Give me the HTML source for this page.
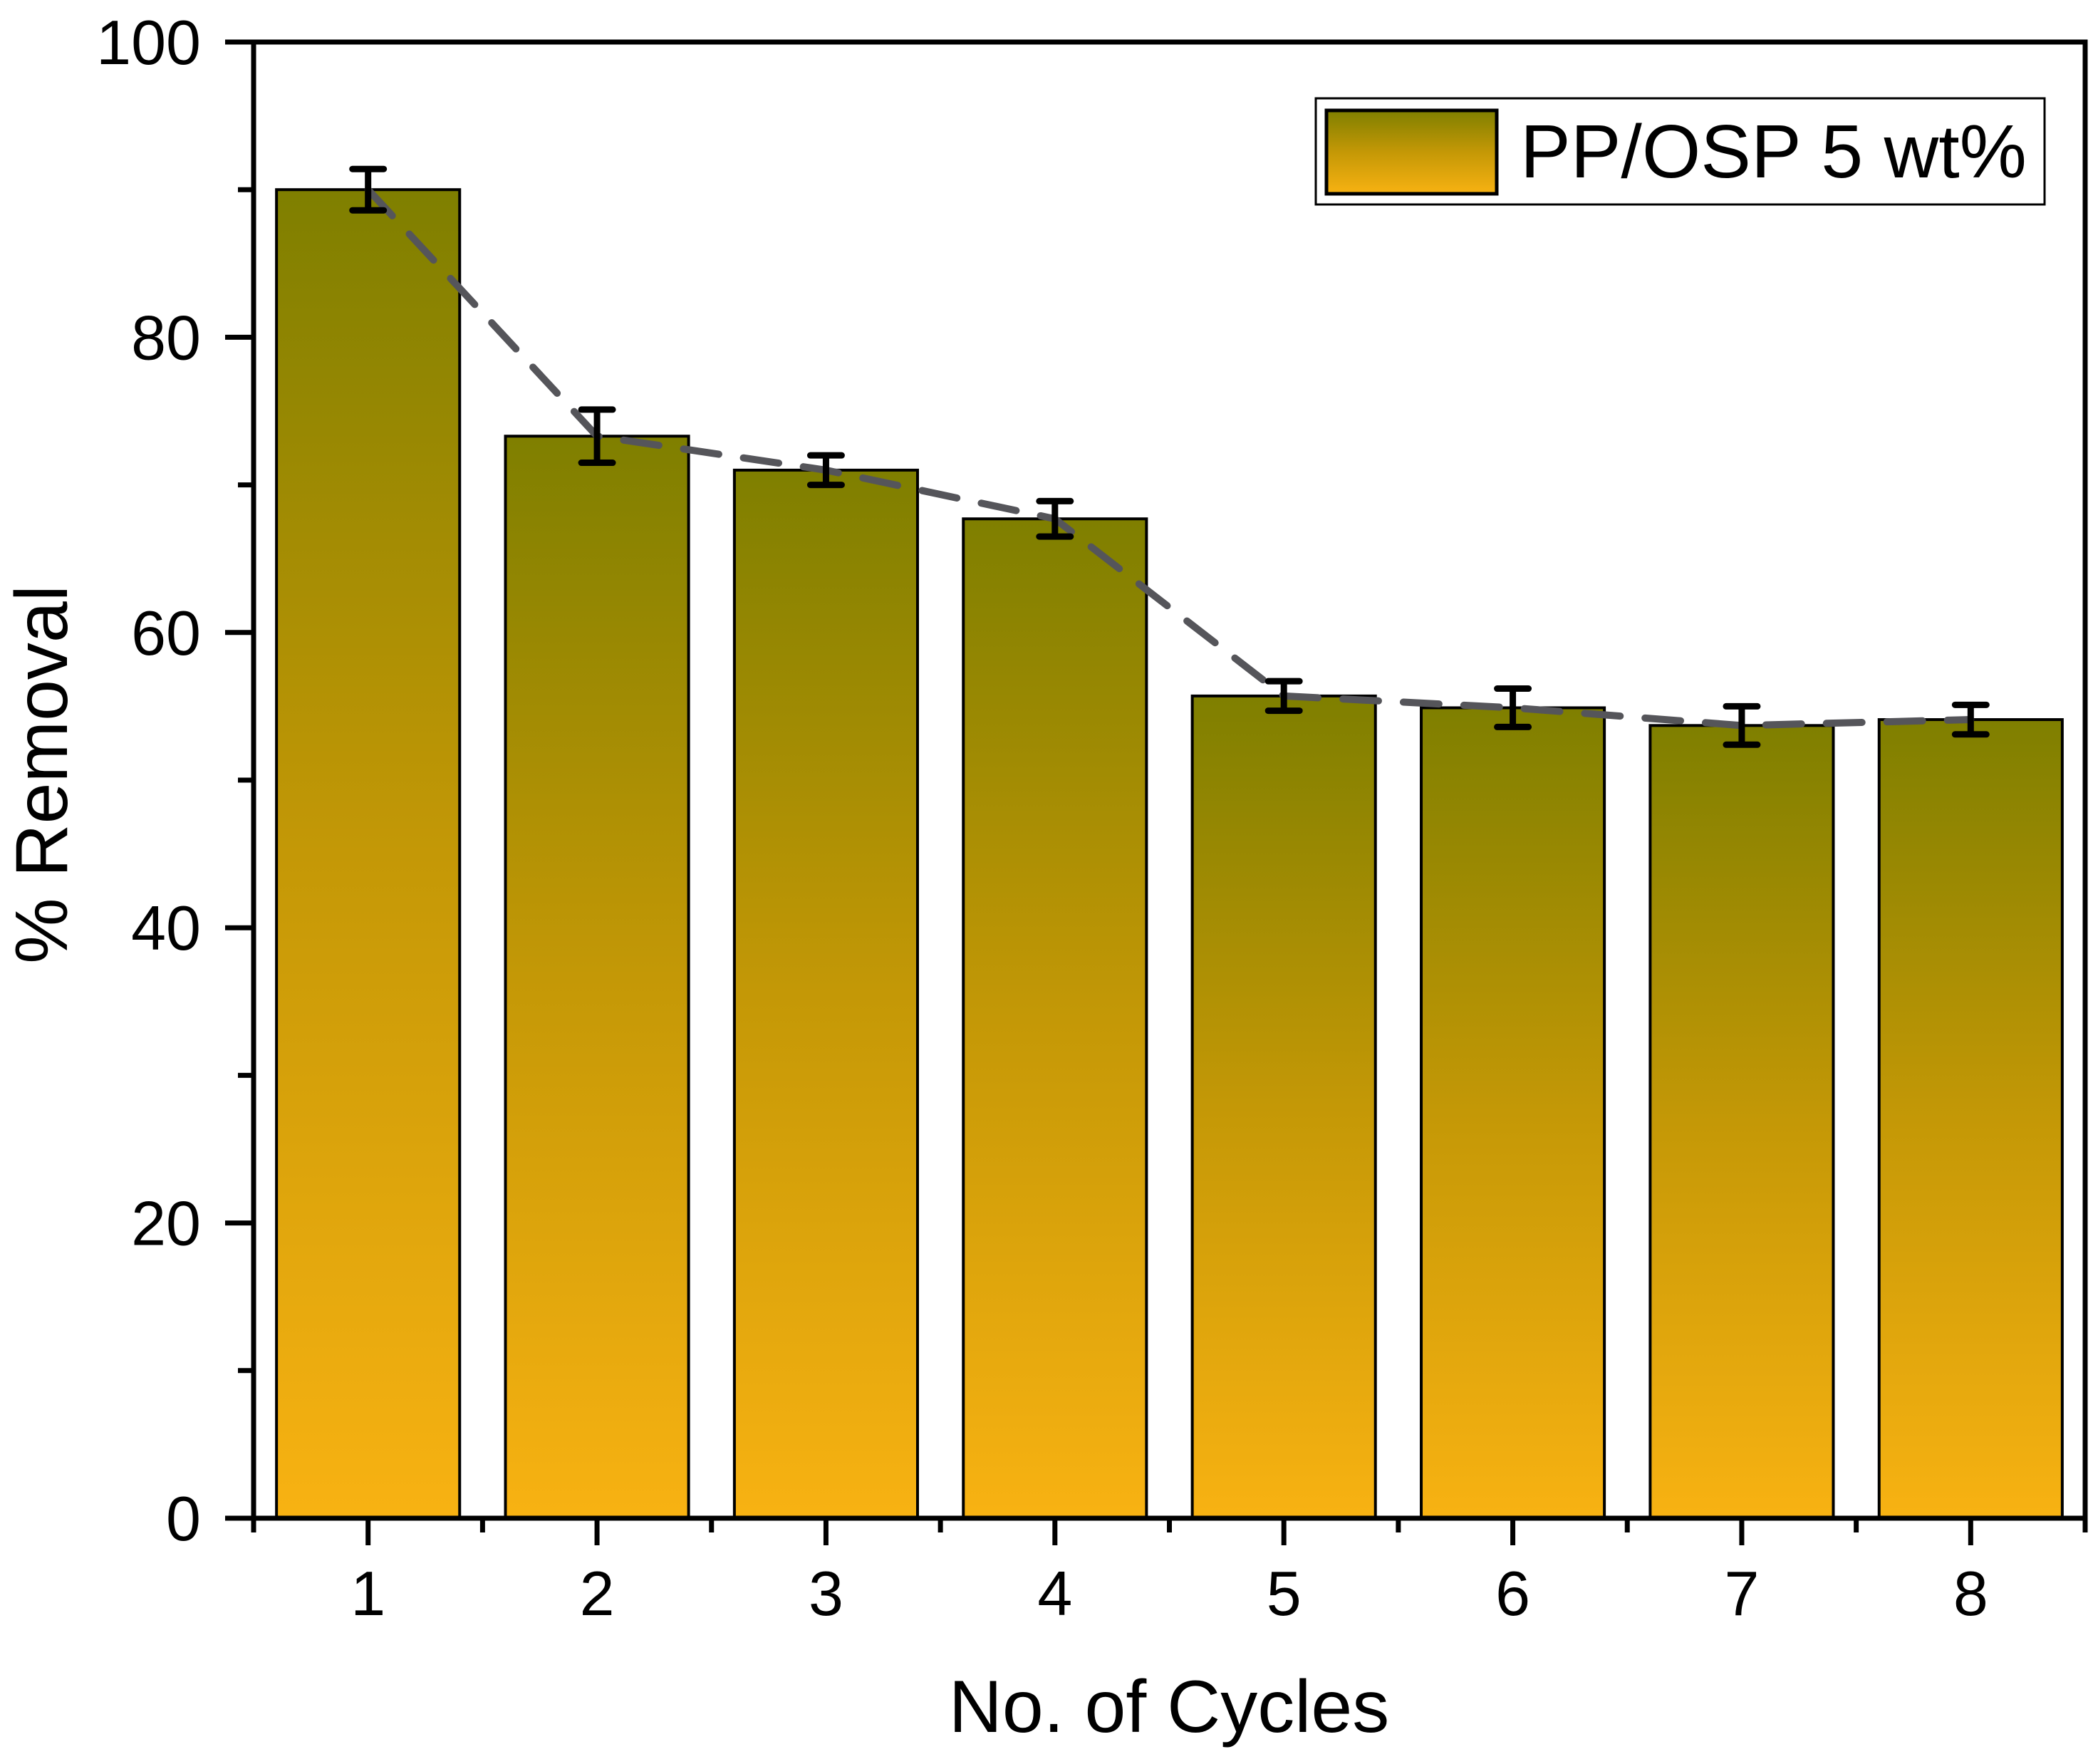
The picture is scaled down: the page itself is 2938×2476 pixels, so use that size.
<!DOCTYPE html>
<html><head><meta charset="utf-8"><style>
html,body{margin:0;padding:0;background:#fff;}
svg{display:block;font-family:"Liberation Sans",Arial,sans-serif;}
</style></head><body>
<svg id="chart" width="2938" height="2476" viewBox="0 0 2938 2476" xmlns="http://www.w3.org/2000/svg">
<defs>
<linearGradient id="barGrad" x1="0" y1="0" x2="0" y2="1">
<stop offset="0" stop-color="#7f7f00"/>
<stop offset="0.5" stop-color="#c49806"/>
<stop offset="1" stop-color="#f8b212"/>
</linearGradient>
</defs>
<g id="plot"></g>
</svg>
<script>
const categories = [1,2,3,4,5,6,7,8];
const values = [90.0,73.3,71.0,67.7,55.7,54.9,53.7,54.1];
const errors = [1.4,1.8,1.0,1.2,1.0,1.3,1.3,1.0];
const yTicks = [0,20,40,60,80,100];
const yMinorTicks = [10,30,50,70,90];

const L=356,R=2927,T=59,B=2131;
const x = v => L + (v-0.5)*(R-L)/8;
const y = v => B - v*(B-T)/100;
const NS='http://www.w3.org/2000/svg';
const g=document.getElementById('plot');
function mk(tag,attrs){const e=document.createElementNS(NS,tag);for(const k in attrs)e.setAttribute(k,attrs[k]);g.appendChild(e);return e;}

const bw=0.8*(R-L)/8;
categories.forEach((c,i)=>{
  const b=mk('rect',{x:x(c)-bw/2,y:y(values[i]),width:bw,height:B-y(values[i]),fill:'url(#barGrad)',stroke:'#000','stroke-width':4});
  
  
});
// dashed trend line
const pts=categories.map((c,i)=>x(c)+','+y(values[i])).join(' ');
const ln=mk('polyline',{points:pts,fill:'none',stroke:'#55555a','stroke-width':10,'stroke-dasharray':'50 35','stroke-linecap':'round'});


// error bars
categories.forEach((c,i)=>{
  const cx=x(c),y1=y(values[i]+errors[i]),y2=y(values[i]-errors[i]);
  const eg=mk('path',{d:`M${cx},${y1}V${y2}M${cx-22},${y1}H${cx+22}M${cx-22},${y2}H${cx+22}`,stroke:'#000','stroke-width':9,'stroke-linecap':'round',fill:'none'});
  
  
});
// axes frame
const fr=mk('rect',{x:L,y:T,width:R-L,height:B-T,fill:'none',stroke:'#000','stroke-width':7});


// y ticks
yTicks.forEach(v=>{
  const t=mk('line',{x1:L-40,x2:L,y1:y(v),y2:y(v),stroke:'#000','stroke-width':7});
  
  
  const lb=mk('text',{x:282,y:y(v)+31,'text-anchor':'end','font-size':88});
  lb.textContent=v;
  
  
});
yMinorTicks.forEach(v=>{
  const t=mk('line',{x1:L-22,x2:L,y1:y(v),y2:y(v),stroke:'#000','stroke-width':7});
  
  
});
// x ticks
categories.forEach(c=>{
  const t=mk('line',{x1:x(c),x2:x(c),y1:B,y2:B+38,stroke:'#000','stroke-width':7});
  
  
  const lb=mk('text',{x:x(c),y:2267,'text-anchor':'middle','font-size':88});
  lb.textContent=c;
  
  
});
for(let k=0;k<=8;k++){
  const t=mk('line',{x1:x(k+0.5),x2:x(k+0.5),y1:B,y2:B+20,stroke:'#000','stroke-width':7});
  
  
}
// axis titles
const xt=mk('text',{x:1641,y:2431,'text-anchor':'middle','font-size':104});
xt.textContent='No. of Cycles';


const yt=mk('text',{x:0,y:0,'text-anchor':'middle','font-size':104,transform:'translate(94,1087) rotate(-90)'});
yt.textContent='% Removal';


// legend
const lg=mk('rect',{x:1847,y:138,width:1023,height:149,fill:'#fff',stroke:'#000','stroke-width':3});


const sw=mk('rect',{x:1862,y:155,width:239,height:117,fill:'url(#barGrad)',stroke:'#000','stroke-width':5});


const lt=mk('text',{x:2134,y:249,'font-size':106});
lt.textContent='PP/OSP 5 wt%';


</script>
</body></html>
